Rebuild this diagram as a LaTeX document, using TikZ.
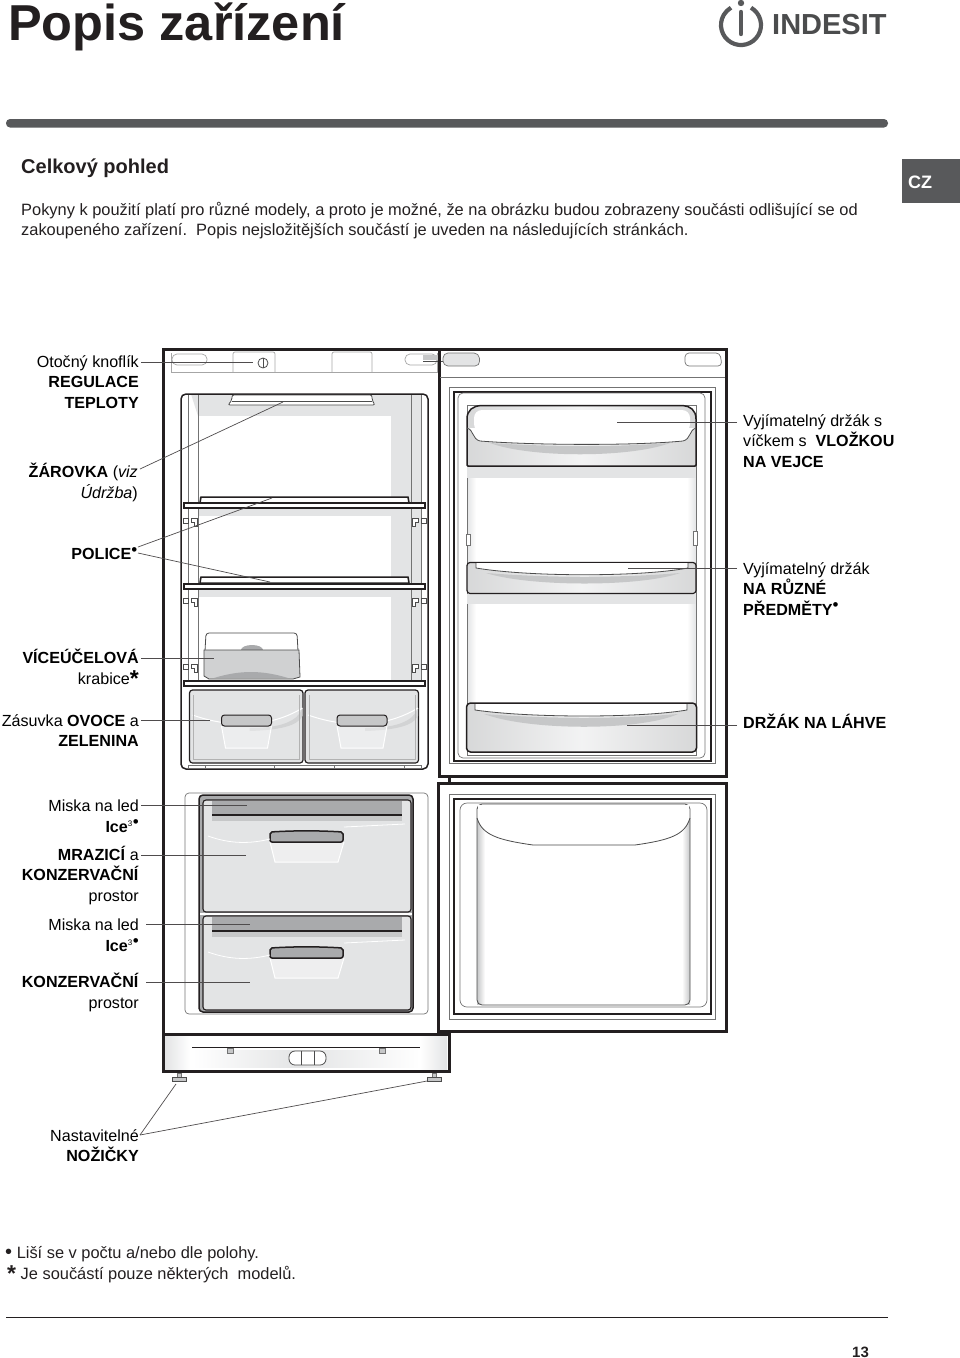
\documentclass[tikz,border=0pt]{standalone}
\usepackage{fontspec}
\setmainfont{Liberation Sans}
\usetikzlibrary{positioning,calc}
\definecolor{darkgrey}{HTML}{58595B}
\definecolor{paneltone}{HTML}{E3E4E5}
\definecolor{traytone}{HTML}{A9AAAC}
\definecolor{traylight}{HTML}{C6C7C8}
\definecolor{boxtone}{HTML}{D0D1D2}
\definecolor{inkline}{HTML}{231F20}
\tikzset{
    body/.style={anchor=base west, inner sep=0pt, font=\fontsize{16.4}{21}\selectfont},
    partl/.style={anchor=north east, align=right, inner sep=0pt, font=\fontsize{16.1}{20.5}\selectfont, execute at begin node=\strut},
    partr/.style={anchor=north west, align=left, inner sep=0pt, font=\fontsize{16.1}{20.5}\selectfont, execute at begin node=\strut},
    leader/.style={draw=inkline!80, line width=0.7pt},
    wall/.style={draw=inkline, line width=3pt},
    rim/.style={draw=inkline, line width=1.5pt},
    thin/.style={draw=black!55, line width=0.7pt},
    hair/.style={draw=black!35, line width=0.7pt},
    fine/.style={draw=black!70, line width=0.8pt},
    doorshade/.style={left color=traylight!70, right color=traylight!70, middle color=paneltone!45},
}
\newcommand{\dotsup}{\raisebox{4.5pt}{\fontsize{17}{17}\selectfont\textbullet}}
\newcommand{\footdot}{\raisebox{-0.5pt}{\fontsize{20}{20}\selectfont\textbullet}}
\newcommand{\bigstar}{\raisebox{-0.28ex}{\fontsize{23}{23}\selectfont\textbf{*}}}
\begin{document}
\begin{tikzpicture}[x=1pt,y=-1pt]
\useasboundingbox (0,0) rectangle (960,1358);

% Header
\node[body, font=\fontsize{50.5}{50}\selectfont\bfseries, text=inkline] (title) at (8,40) {Popis zařízení};
\draw[darkgrey, line width=4.2pt] (751,7.7) arc[start angle=60, end angle=-240, radius=20pt];
\draw[darkgrey, line width=4.4pt, line cap=round] (741,12) -- (741,34);
\fill[darkgrey] (741,3) circle (3.2pt);
\node[anchor=base west, inner sep=0pt, font=\fontsize{29}{29}\selectfont\bfseries, text=darkgrey!85!black] (brand) at (772,34.5) {INDESIT};
\fill[darkgrey, rounded corners=4pt] (6,119) rectangle (888,127.5);
\fill[darkgrey] (902,159) rectangle (960,203);
\node[inner sep=0pt, font=\fontsize{18}{18}\selectfont\bfseries, text=white] (lang) at (920,182) {CZ};

% Intro
\node[body, font=\fontsize{20}{24}\selectfont\bfseries, text=inkline] (heading) at (21,173) {Celkový pohled};
\node[body, text=inkline] (introa) at (21,215) {Pokyny k použití platí pro různé modely, a proto je možné, že na obrázku budou zobrazeny součásti odlišující se od};
\node[body, text=inkline] (introb) at (21,235) {zakoupeného zařízení.\ \ Popis nejsložitějších součástí je uveden na následujících stránkách.};

% Cabinet interior panels
\fill[paneltone] (189,394) rectangle (421,680);
\fill[white] (198,416) -- (391,416) -- (391,497) -- (198,497) -- cycle;
\fill[white] (198,516) rectangle (391,578);
\fill[white] (198,597) rectangle (391,680);
\fill[white] (189,394) rectangle (198,680);
\fill[paneltone] (191,394) -- (198,394) -- (198,416) -- cycle;

% Cabinet
\draw[wall] (163,1034) -- (163,349) -- (439,349) -- (439,776);
\draw[hair] (171,353) -- (171,372) -- (437,372) -- (437,353);
\draw[hair, rounded corners=2pt] (233,372) -- (233,352) -- (275,352) -- (275,372);
\draw[hair, rounded corners=2pt] (332,372) -- (332,352) -- (372,352) -- (372,372);
\draw[hair, rounded corners=5pt] (172,354) rectangle (207,365);
\draw[hair, rounded corners=5pt] (405,354) rectangle (437,365);
\draw[fine] (263,363) circle (5pt);
\draw[fine] (263,358) -- (263,368);
\fill[traylight] (423,355) rectangle (438,360);
\draw[fine, line width=1pt] (423,361) -- (468,361);
\draw[rim, rounded corners=5pt] (181,394) rectangle (428,769);
\foreach \vx in {188,198,411,421}
  \draw[thin] (\vx,395) -- (\vx,680);

% Lamp
\draw[fine, fill=white, rounded corners=2pt] (228,405) -- (232,400) -- (232,395) -- (372,395) -- (372,400) -- (375,405) -- cycle;
\draw[fine] (232,401) -- (372,401);

% Shelves
\foreach \sy in {503,583}{
  \draw[rim, fill=white] (200,\sy) -- (201,\sy-6) -- (408,\sy-6) -- (409,\sy) -- cycle;
}
\draw[rim, fill=white] (184,503) rectangle (425,508);
\draw[rim, fill=white] (184,584) rectangle (425,589);
\draw[rim, fill=white] (184,681) rectangle (425,686);

% Shelf clips
\foreach \cy in {521,601,667}{
  \draw[fine, fill=white] (183,\cy-3) rectangle (188,\cy+2);
  \draw[fine, fill=white] (191,\cy-3) -- (197,\cy-3) -- (197,\cy+5) -- (194,\cy+5) -- (194,\cy+1) -- (191,\cy+1) -- cycle;
  \draw[fine, fill=white] (421,\cy-3) rectangle (426,\cy+2);
  \draw[fine, fill=white] (418,\cy-3) -- (412,\cy-3) -- (412,\cy+5) -- (415,\cy+5) -- (415,\cy+1) -- (418,\cy+1) -- cycle;
}

% Box
\draw[fine, fill=white, rounded corners=3pt] (205,651) -- (206,633) -- (297,633) -- (298,651);
\fill[traytone] (241,650) arc[start angle=180, end angle=0, x radius=11pt, y radius=5pt] -- cycle;
\draw[fine, fill=boxtone] (204,650) -- (299,650) -- (300,677) -- (293,679) -- (209,679) -- (204,676) -- cycle;
\fill[traytone] (214,678) .. controls (240,670) and (262,670) .. (288,678) -- cycle;

% Crisper drawers
\foreach \dx in {189.5,305}{
  \draw[inkline, line width=1.2pt, fill=paneltone, rounded corners=3pt] (\dx,690) rectangle (\dx+113.5,763);
  \fill[traylight!60!paneltone] (\dx+60,728) .. controls (\dx+90,728) and (\dx+108,722) .. (\dx+113,708) -- (\dx+113,716) .. controls (\dx+108,726) and (\dx+90,730) .. (\dx+60,731) -- cycle;
  \draw[white, line width=1pt] (\dx+3,715) .. controls (\dx+40,728) and (\dx+80,728) .. (\dx+113,708);
  \draw[white, line width=1pt, fill=white, fill opacity=0.35] (\dx+32,726) -- (\dx+36,748) -- (\dx+78,748) -- (\dx+82,726);
  \draw[inkline, line width=1pt, fill=traylight, rounded corners=3pt] (\dx+32,715) rectangle (\dx+82,726);
  \draw[black!30, line width=0.5pt] (\dx+4,695) -- (\dx+4,759) -- (\dx+110,759) -- (\dx+110,695);
}
\foreach \fx/\fy in {188/765,205/765,274/765,334/765,404/765,421/765}
  \draw[thin] (\fx,\fy) -- (\fx,768);
\draw[thin] (188,765) -- (421,765);

% Fridge door
\draw[wall] (439,349) rectangle (726,776);
\draw[thin, line width=1pt] (440,377) -- (725,377);
\draw[thin] (449,387) rectangle (715,763);
\draw[rim] (454,392) rectangle (711,761);
\draw[thin, rounded corners=5pt] (458,393) rectangle (705,758);
\draw[thin, fill=paneltone, rounded corners=5pt] (443,353) -- (479,353) -- (480,366) -- (443,366) -- cycle;
\draw[thin, rounded corners=4pt] (685,366) -- (685,353) -- (720,353) -- (722,366) -- cycle;
\foreach \ya/\yb in {466/562,594/703}{
  \shade[left color=paneltone, right color=white] (467,\ya) rectangle (476,\yb);
  \shade[left color=white, right color=paneltone] (687,\ya) rectangle (696,\yb);
}
\draw[thin] (467,405) rectangle (696,755);
\draw[thin, fill=white] (466,534) rectangle (470,545);
\draw[thin, fill=white] (693,531) rectangle (697,545);

% Door trays
\fill[paneltone] (467,466) rectangle (696,478);
\fill[paneltone] (467,594) rectangle (696,604);
\draw[rim, doorshade, rounded corners=1pt] (467,466) -- (467,420) .. controls (467,410) and (473,406) .. (482,405.5) -- (682,405.5) .. controls (690,406) and (696,410) .. (696,420) -- (696,466) -- cycle;
\fill[white, rounded corners=8pt] (474,410) rectangle (690,432);
\draw[fine, fill=white] (467,428) .. controls (474,430) and (472,439) .. (480,441) .. controls (530,445) and (630,446) .. (683,441) .. controls (691,439) and (689,430) .. (696,428);
\fill[traylight] (490,443) .. controls (550,447) and (620,447) .. (670,443) .. controls (630,458) and (530,458) .. (490,443) -- cycle;
\draw[rim, line width=1.2pt, doorshade, rounded corners=3pt] (467,562.5) rectangle (696,593.5);
\fill[white] (476,563) -- (688,563) -- (688,568) .. controls (640,577) and (530,577) .. (476,568) -- cycle;
\draw[fine] (476,563) -- (476,568) .. controls (530,577) and (640,577) .. (688,568) -- (688,563);
\fill[traylight] (486,573) .. controls (550,578) and (620,578) .. (680,573) .. controls (640,587) and (530,587) .. (486,573) -- cycle;
\draw[rim, doorshade, rounded corners=4pt] (466.5,703) rectangle (696.5,752);
\fill[white] (475,704) -- (687,704) -- (687,710) .. controls (640,718) and (530,718) .. (475,710) -- cycle;
\draw[fine] (475,704) -- (475,710) .. controls (530,718) and (640,718) .. (687,710) -- (687,704);
\fill[traylight] (484,714) .. controls (550,719) and (620,719) .. (678,714) .. controls (640,731) and (530,731) .. (484,714) -- cycle;

% Freezer
\draw[thin, rounded corners=4pt] (185,793) rectangle (428,1014);
\draw[rim, fill=traytone, rounded corners=4pt] (199,795) rectangle (413,1012);
\foreach \ty/\th in {800/112,916/94}{
  \draw[inkline, line width=1.1pt, fill=paneltone, rounded corners=3pt] (203,\ty) rectangle (411,\ty+\th);
}
\fill[white] (200,913) rectangle (412,915);
% Ice trays
\fill[traylight] (212,801) rectangle (402,821);
\fill[traytone] (212,801) rectangle (402,815);
\draw[rim] (212,815) -- (402,815);
\fill[traylight] (212,917) rectangle (402,937);
\fill[traytone] (212,917) rectangle (402,931);
\draw[rim] (212,931) -- (402,931);
% Handles
\foreach \hy in {832,948}{
  \draw[white, line width=1pt, fill=white, fill opacity=0.4] (270,\hy+10) -- (275,\hy+30) -- (338,\hy+30) -- (344,\hy+10);
  \draw[rim, fill=traytone, rounded corners=2pt] (270,\hy) .. controls (295,\hy-1.5) and (318,\hy-1.5) .. (343,\hy) -- (343,\hy+10) -- (270,\hy+10) -- cycle;
  \draw[white, line width=0.8pt] (208,\hy+4) .. controls (230,\hy+12) and (250,\hy+12) .. (270,\hy+7);
  \draw[white, line width=0.8pt] (344,\hy-5) -- (405,\hy-8);
}

% Freezer door
\draw[wall] (438.5,783) rectangle (726,1031);
\draw[wall] (449,776) -- (449,783);
\draw[thin] (449,794) rectangle (715,1019);
\draw[rim] (454,799) rectangle (711,1014);
\draw[thin, rounded corners=7pt] (460,803) rectangle (707,1007);
\shade[left color=traylight, right color=white] (477,820) rectangle (485,1004);
\shade[left color=white, right color=traylight] (682,820) rectangle (690,1004);
\draw[fine, rounded corners=5pt] (477,804) rectangle (690,1005);
\fill[white] (478,805) -- (689,805) -- (689,818) .. controls (685,835) and (670,840) .. (635,845) -- (533,845) .. controls (498,840) and (482,835) .. (478,818) -- cycle;
\draw[fine] (477,818) .. controls (482,835) and (498,840) .. (533,845) -- (635,845) .. controls (670,840) and (685,835) .. (690,818);

% Base
\draw[wall] (163,1034) rectangle (449,1071);
\shade[left color=white, right color=paneltone] (193,1050) rectangle (300,1067);
\shade[left color=paneltone, right color=white] (300,1050) rectangle (420,1067);
\shade[left color=paneltone, right color=white] (165,1036) rectangle (190,1069);
\shade[left color=white, right color=paneltone] (420,1036) rectangle (447,1069);
\draw[inkline, line width=0.9pt] (192,1047) -- (420,1047);
\foreach \tx in {230,382}
  \draw[thin, fill=traylight] (\tx-3,1048) rectangle (\tx+3,1053);
\draw[fine, fill=white, rounded corners=6pt] (289,1051) rectangle (326,1065);
\draw[fine] (301,1051) -- (301,1065) (314,1051) -- (314,1065);

% Feet
\foreach \ffx in {179,434}{
  \draw[thin, fill=traylight] (\ffx-2,1073) rectangle (\ffx+2,1077);
  \draw[fine, fill=traylight] (\ffx-7,1077) rectangle (\ffx+7,1081);
}

% Labels on the left
\node[partl] (knob) at (139,355) {Otočný knoflík\\\textbf{REGULACE}\\\textbf{TEPLOTY}};
\node[partl] (lamp) at (138,463) {\textbf{ŽÁROVKA} (\textit{viz}\\\textit{Údržba})};
\node[partl] (shelf) at (137.5,545) {\textbf{POLICE}\dotsup};
\node[partl] (multibox) at (139,649) {\textbf{VÍCEÚČELOVÁ}\\krabice\bigstar};
\node[partl] (crisper) at (139,714) {Zásuvka \textbf{OVOCE} a\\\textbf{ZELENINA}};
\node[partl] (icea) at (139,800) {Miska na led\\\textbf{Ice}\textsuperscript{\fontsize{8}{8}\selectfont 3}\dotsup};
\node[partl] (freezer) at (139,846) {\textbf{MRAZICÍ} a\\\textbf{KONZERVAČNÍ}\\prostor};
\node[partl] (iceb) at (139,919) {Miska na led\\\textbf{Ice}\textsuperscript{\fontsize{8}{8}\selectfont 3}\dotsup};
\node[partl] (storage) at (139,973) {\textbf{KONZERVAČNÍ}\\prostor};
\node[partl] (feet) at (139,1129) {Nastavitelné\\\textbf{NOŽIČKY}};

% Labels on the right
\node[partr] (eggs) at (743,414) {Vyjímatelný držák s\\víčkem s\ \ \textbf{VLOŽKOU}\\\textbf{NA VEJCE}};
\node[partr] (rack) at (743,562) {Vyjímatelný držák\\\textbf{NA RŮZNÉ}\\\textbf{PŘEDMĚTY}\dotsup};
\node[partr] (bottles) at (743,714) {\textbf{DRŽÁK NA LÁHVE}};

% Leader ends
\coordinate (knobtip) at (253,362);
\coordinate (lamptail) at (140,469);
\coordinate (lamptip) at (283,402);
\coordinate (shelftail) at (138,547);
\coordinate (shelfdown) at (138,553);
\coordinate (shelfa) at (272,498);
\coordinate (shelfb) at (270,582);
\coordinate (multitip) at (214,658);
\coordinate (crispertip) at (210,720);
\coordinate (iceatip) at (247,805);
\coordinate (freezertip) at (246,855);
\coordinate (icebtip) at (250,924);
\coordinate (storagetip) at (250,982);
\coordinate (foottail) at (140,1135);
\coordinate (foota) at (176,1084);
\coordinate (footb) at (427,1081);
\coordinate (eggstip) at (617,422);
\coordinate (racktip) at (628,568);
\coordinate (bottlestip) at (627,725);

% Leaders
\draw[leader] (knob.east |- knobtip) ++(2,0) -- (knobtip);
\draw[leader] (lamptail) -- (lamptip);
\draw[leader] (shelftail) -- (shelfa);
\draw[leader] (shelfdown) -- (shelfb);
\draw[leader] (multibox.east |- multitip) ++(2,0) -- (multitip);
\draw[leader] (crisper.east |- crispertip) ++(2,0) -- (crispertip);
\draw[leader] (icea.east |- iceatip) ++(2,0) -- (iceatip);
\draw[leader] (freezer.east |- freezertip) ++(2,0) -- (freezertip);
\draw[leader] (iceb.east |- icebtip) ++(7,0) -- (icebtip);
\draw[leader] (storage.east |- storagetip) ++(7,0) -- (storagetip);
\draw[leader] (foottail) -- (foota);
\draw[leader] (foottail) -- (footb);
\draw[leader] (eggs.west |- eggstip) ++(-6,0) -- (eggstip);
\draw[leader] (rack.west |- racktip) ++(-6,0) -- (racktip);
\draw[leader] (bottles.west |- bottlestip) ++(-6,0) -- (bottlestip);

% Footnotes
\node[body, text=inkline] (notea) at (5,1258) {\footdot\ Liší se v počtu a/nebo dle polohy.};
\node[body, text=inkline] (noteb) at (7,1279) {\bigstar\ Je součástí pouze některých\ \ modelů.};
\draw[inkline, line width=1.2pt] (6,1317.5) -- (888,1317.5);
\node[body, font=\fontsize{15}{15}\selectfont\bfseries, text=inkline] (page) at (852,1357) {13};

\end{tikzpicture}
\end{document}
